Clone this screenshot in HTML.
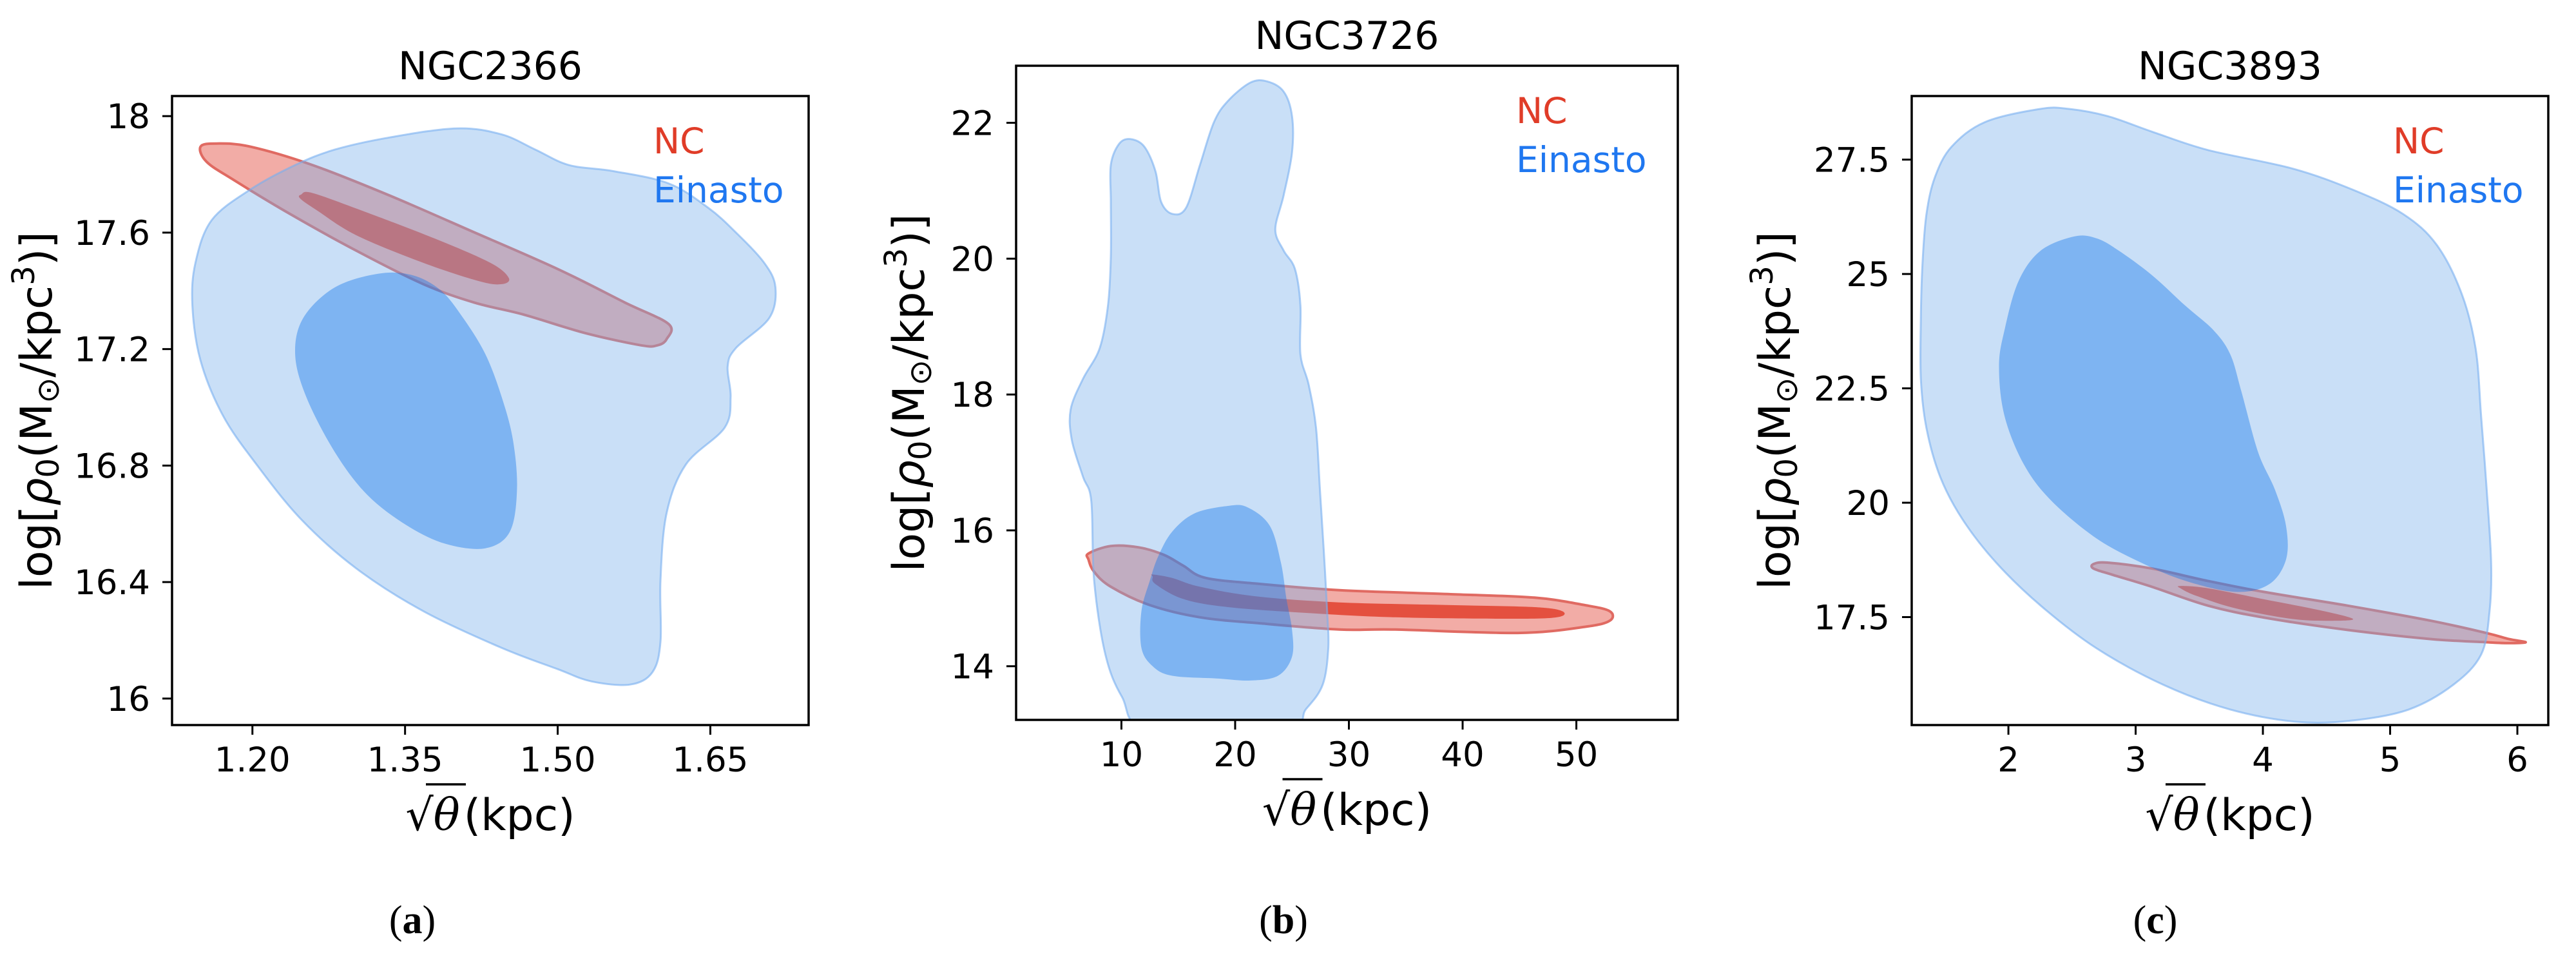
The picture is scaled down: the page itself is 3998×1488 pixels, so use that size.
<!DOCTYPE html>
<html><head><meta charset="utf-8"><style>
html,body{margin:0;padding:0;background:#fff;}
svg{display:block;font-family:"DejaVu Sans","Liberation Sans",sans-serif;}
</style></head><body>
<svg id="fig" width="3998" height="1488" viewBox="0 0 3998 1488" xmlns="http://www.w3.org/2000/svg"></svg>
<script>
// ---------- Panel (a) NGC2366 ----------
const aTitle = "NGC2366";
const aXTicks = [1.20, 1.35, 1.50, 1.65];
const aXTickLabels = ["1.20", "1.35", "1.50", "1.65"];
const aYTicks = [16, 16.4, 16.8, 17.2, 17.6, 18];
const aYTickLabels = ["16", "16.4", "16.8", "17.2", "17.6", "18"];
const aBlueOuter = [[1.401,17.958],[1.335,17.927],[1.281,17.885],[1.242,17.832],[1.198,17.748],[1.160,17.643],[1.144,17.496],[1.141,17.349],[1.149,17.161],[1.171,16.972],[1.204,16.804],[1.248,16.615],[1.302,16.447],[1.368,16.300],[1.445,16.174],[1.500,16.101],[1.533,16.059],[1.571,16.048],[1.593,16.090],[1.601,16.195],[1.601,16.405],[1.607,16.636],[1.626,16.804],[1.664,16.930],[1.670,17.035],[1.667,17.140],[1.675,17.203],[1.708,17.307],[1.714,17.412],[1.703,17.496],[1.675,17.601],[1.648,17.685],[1.609,17.769],[1.555,17.811],[1.511,17.832],[1.478,17.885],[1.445,17.937]];
const aBlueInner = [[1.324,17.459],[1.281,17.412],[1.250,17.307],[1.242,17.182],[1.253,17.035],[1.281,16.846],[1.313,16.699],[1.352,16.594],[1.390,16.531],[1.429,16.516],[1.453,16.573],[1.460,16.720],[1.456,16.888],[1.445,17.035],[1.429,17.182],[1.407,17.307],[1.385,17.402],[1.357,17.454]];
const aRedOuter = [[1.149,17.895],[1.165,17.906],[1.198,17.895],[1.259,17.832],[1.335,17.727],[1.418,17.601],[1.500,17.475],[1.566,17.360],[1.609,17.286],[1.607,17.234],[1.598,17.213],[1.582,17.213],[1.527,17.255],[1.467,17.318],[1.418,17.360],[1.368,17.423],[1.302,17.538],[1.237,17.664],[1.182,17.780],[1.155,17.843]];
const aRedInner = [[1.248,17.731],[1.259,17.736],[1.308,17.675],[1.379,17.580],[1.434,17.496],[1.452,17.444],[1.445,17.423],[1.423,17.433],[1.368,17.496],[1.302,17.591],[1.264,17.675],[1.247,17.717]];

// ---------- Panel (b) NGC3726 ----------
const bTitle = "NGC3726";
const bXTicks = [10, 20, 30, 40, 50];
const bXTickLabels = ["10", "20", "30", "40", "50"];
const bYTicks = [14, 16, 18, 20, 22];
const bYTickLabels = ["14", "16", "18", "20", "22"];
const bBlueOuter = [[9.07,21.38],[9.80,21.69],[10.78,21.76],[12.01,21.65],[12.99,21.29],[13.48,20.84],[14.46,20.66],[15.69,20.75],[16.91,21.38],[18.14,22.01],[19.36,22.32],[21.32,22.59],[22.79,22.61],[24.26,22.46],[25.00,22.10],[25.00,21.56],[24.26,20.93],[23.53,20.43],[24.26,20.12],[25.25,19.85],[25.74,19.31],[25.74,18.59],[26.47,18.14],[27.11,17.51],[27.45,16.61],[27.79,15.71],[28.09,14.81],[28.19,14.27],[27.70,13.73],[26.23,13.37],[24.26,13.05],[12.50,13.05],[10.05,13.55],[8.58,14.18],[7.60,15.26],[7.35,16.43],[6.62,16.79],[5.64,17.33],[5.54,17.78],[6.62,18.23],[8.09,18.68],[8.82,19.31],[9.07,20.03],[9.07,20.84]];
const bBlueInner = [[14.46,15.98],[16.42,16.25],[19.36,16.36],[21.08,16.34],[23.04,16.07],[24.02,15.53],[24.51,14.99],[25.00,14.54],[25.00,14.14],[23.77,13.86],[21.32,13.79],[18.38,13.82],[14.46,13.86],[12.75,14.00],[11.76,14.27],[11.76,14.81],[12.50,15.26],[13.24,15.62]];
const bRedOuter = [[7.11,15.66],[9.07,15.77],[11.52,15.75],[13.73,15.64],[15.44,15.48],[17.40,15.30],[22.30,15.21],[29.17,15.12],[38.97,15.06],[46.32,15.01],[50.74,14.90],[52.94,14.81],[52.94,14.67],[50.74,14.58],[44.85,14.49],[34.07,14.54],[29.17,14.54],[22.30,14.63],[16.91,14.72],[12.50,14.90],[9.07,15.17],[7.60,15.39],[7.11,15.57]];
const bRedInner = [[12.75,15.35],[14.46,15.30],[16.91,15.17],[21.81,15.03],[29.17,14.94],[38.97,14.90],[46.32,14.87],[48.77,14.81],[48.28,14.72],[43.87,14.70],[34.07,14.72],[26.72,14.78],[19.36,14.87],[15.44,14.99],[12.99,15.21],[12.75,15.32]];

// ---------- Panel (c) NGC3893 ----------
const cTitle = "NGC3893";
const cXTicks = [2, 3, 4, 5, 6];
const cXTickLabels = ["2", "3", "4", "5", "6"];
const cYTicks = [17.5, 20, 22.5, 25, 27.5];
const cYTickLabels = ["17.5", "20", "22.5", "25", "27.5"];
const cBlueOuter = [[2.254,28.61],[1.816,28.32],[1.553,27.78],[1.422,27.11],[1.356,26.31],[1.325,25.24],[1.312,24.04],[1.312,22.70],[1.356,21.63],[1.465,20.56],[1.641,19.63],[1.904,18.69],[2.254,17.75],[2.692,16.82],[3.218,16.02],[3.744,15.48],[4.269,15.21],[4.708,15.24],[5.146,15.48],[5.496,16.02],[5.715,16.68],[5.781,17.62],[5.794,18.69],[5.759,20.29],[5.715,21.90],[5.672,23.37],[5.562,24.57],[5.365,25.64],[5.102,26.31],[4.708,26.84],[4.226,27.31],[3.568,27.71],[3.130,28.11],[2.780,28.45],[2.473,28.61]];
const cBlueInner = [[2.517,25.82],[2.254,25.51],[2.079,24.84],[1.969,23.77],[1.926,22.97],[1.969,21.90],[2.123,20.83],[2.342,20.03],[2.692,19.22],[3.043,18.69],[3.393,18.29],[3.788,18.05],[4.050,18.22],[4.182,18.76],[4.182,19.49],[4.094,20.29],[3.963,21.10],[3.831,22.43],[3.744,23.24],[3.612,23.77],[3.393,24.30],[3.130,24.97],[2.867,25.51],[2.692,25.78]];
const cRedOuter = [[2.670,18.66],[2.780,18.69],[3.130,18.56],[3.568,18.29],[4.007,18.05],[4.664,17.75],[5.321,17.42],[5.759,17.15],[5.934,17.02],[6.066,16.95],[5.934,16.93],[5.759,16.95],[5.321,17.02],[4.664,17.22],[4.007,17.49],[3.568,17.75],[3.130,18.16],[2.824,18.42],[2.670,18.56]];
const cRedInner = [[3.349,18.18],[3.568,18.13],[4.007,17.89],[4.445,17.65],[4.708,17.46],[4.532,17.42],[4.226,17.46],[3.788,17.69],[3.481,17.96],[3.358,18.12]];

const NS = "http://www.w3.org/2000/svg";
const svg = document.getElementById("fig");
function mk(tag, attrs, parent){
  const e = document.createElementNS(NS, tag);
  for (const k in attrs) e.setAttribute(k, attrs[k]);
  (parent||svg).appendChild(e);
  return e;
}
function smoothPath(pts){
  const n = pts.length; let d = "M" + pts[0][0].toFixed(1) + "," + pts[0][1].toFixed(1);
  for (let i=0;i<n;i++){
    const p0=pts[(i-1+n)%n], p1=pts[i], p2=pts[(i+1)%n], p3=pts[(i+2)%n];
    const c1x=p1[0]+(p2[0]-p0[0])/6, c1y=p1[1]+(p2[1]-p0[1])/6;
    const c2x=p2[0]-(p3[0]-p1[0])/6, c2y=p2[1]-(p3[1]-p1[1])/6;
    d += "C"+c1x.toFixed(1)+","+c1y.toFixed(1)+" "+c2x.toFixed(1)+","+c2y.toFixed(1)+" "+p2[0].toFixed(1)+","+p2[1].toFixed(1);
  }
  return d+"Z";
}

function panel(cfg){
  const g = mk("g", {});
  
  
  const L=cfg.box[0], T=cfg.box[1], R=cfg.box[2], B=cfg.box[3];
  const sx = v => L + (v - cfg.xr[0])/(cfg.xr[1]-cfg.xr[0])*(R-L);
  const sy = v => B - (v - cfg.yr[0])/(cfg.yr[1]-cfg.yr[0])*(B-T);
  const proj = arr => arr.map(p => [sx(p[0]), sy(p[1])]);
  const cp = mk("clipPath", {id: cfg.id+"-clip"}, g);
  mk("rect", {x:L, y:T, width:R-L, height:B-T}, cp);
  const plot = mk("g", {"clip-path":"url(#"+cfg.id+"-clip)"}, g);
  
  
  let e;
  e = mk("path", {d: smoothPath(proj(cfg.redOuter)), fill:"#f2aca6", stroke:"#e06a62", "stroke-width":4}, plot);
  
  
  e = mk("path", {d: smoothPath(proj(cfg.redInner)), fill:"#e4503f"}, plot);
  
  
  e = mk("path", {d: smoothPath(proj(cfg.blueOuter)), fill:"rgb(120,175,235)", "fill-opacity":0.4, stroke:"rgb(120,175,240)", "stroke-opacity":0.6, "stroke-width":3}, plot);
  
  
  e = mk("path", {d: smoothPath(proj(cfg.blueInner)), fill:"rgb(16,115,235)", "fill-opacity":0.4}, plot);
  
  
  e = mk("rect", {x:L, y:T, width:R-L, height:B-T, fill:"none", stroke:"#000", "stroke-width":3.5}, g);
  
  
  cfg.xt.forEach((v,i)=>{
    const x=sx(v);
    const t = mk("line", {x1:x, y1:B, x2:x, y2:B+15, stroke:"#000", "stroke-width":3}, g);
    
    
    const lb = mk("text", {x:x, y:B+72, "text-anchor":"middle", "font-size":53}, g);
    lb.textContent = cfg.xtl[i];
    
    
  });
  cfg.yt.forEach((v,i)=>{
    const y=sy(v);
    const t = mk("line", {x1:L-15, y1:y, x2:L, y2:y, stroke:"#000", "stroke-width":3}, g);
    
    
    const lb = mk("text", {x:L-34, y:y+19, "text-anchor":"end", "font-size":53}, g);
    lb.textContent = cfg.ytl[i];
    
    
  });
  const cx=(L+R)/2;
  e = mk("text", {x:cx, y:T-26, "text-anchor":"middle", "font-size":60}, g);
  e.textContent = cfg.title;
  
  
  e = mk("text", {x:cfg.leg[0], y:T+89, "font-size":55, fill:"#e03c28"}, g);
  e.textContent = "NC";
  
  
  e = mk("text", {x:cfg.leg[0], y:T+165, "font-size":55, fill:"#1f77f0"}, g);
  e.textContent = "Einasto";
  
  
  // x label
  const xl = mk("g", {}, g);
  
  
  const xt = mk("text", {x:cx, y:B+163, "text-anchor":"middle", "font-size":68}, xl);
  xt.innerHTML = '√<tspan font-style="italic" font-family="DejaVu Serif, Liberation Serif, serif">θ</tspan><tspan dx="6">(kpc)</tspan>';
  mk("line", {x1:cx-100, y1:B+92, x2:cx-38, y2:B+92, stroke:"#000", "stroke-width":3.5}, xl);
  // y label
  const yl = mk("text", {transform:"translate("+cfg.ylX+","+((T+B)/2)+") rotate(-90)", "text-anchor":"middle", "font-size":68}, g);
  yl.innerHTML = 'log[<tspan font-style="italic">ρ</tspan><tspan font-size="48" dy="11">0</tspan><tspan dy="-11">(M</tspan><tspan font-size="48" dy="11">⊙</tspan><tspan dy="-11">/kpc</tspan><tspan font-size="48" dy="-27">3</tspan><tspan dy="27">)]</tspan>';
  
  
  e = mk("text", {x:cfg.subX, y:1448, "text-anchor":"middle", "font-size":62, "font-family":"Liberation Serif, serif"}, g);
  e.innerHTML = '(<tspan font-weight="bold">'+cfg.sub+'</tspan>)';
  
  
}

panel({id:"a", box:[267,149,1255,1125], xr:[1.121,1.7466], yr:[15.909,18.069], xt:aXTicks, xtl:aXTickLabels, yt:aYTicks, ytl:aYTickLabels, title:aTitle,
  blueOuter:aBlueOuter, blueInner:aBlueInner, redOuter:aRedOuter, redInner:aRedInner, leg:[1014], ylX:80, sub:"a", subX:640});
panel({id:"b", box:[1577,102,2604,1117], xr:[0.74,58.92], yr:[13.21,22.84], xt:bXTicks, xtl:bXTickLabels, yt:bYTicks, ytl:bYTickLabels, title:bTitle,
  blueOuter:bBlueOuter, blueInner:bBlueInner, redOuter:bRedOuter, redInner:bRedInner, leg:[2353], ylX:1434, sub:"b", subX:1992});
panel({id:"c", box:[2967,149,3955,1125], xr:[1.24,6.243], yr:[15.14,28.89], xt:cXTicks, xtl:cXTickLabels, yt:cYTicks, ytl:cYTickLabels, title:cTitle,
  blueOuter:cBlueOuter, blueInner:cBlueInner, redOuter:cRedOuter, redInner:cRedInner, leg:[3714], ylX:2778, sub:"c", subX:3345});
</script>
</body></html>
